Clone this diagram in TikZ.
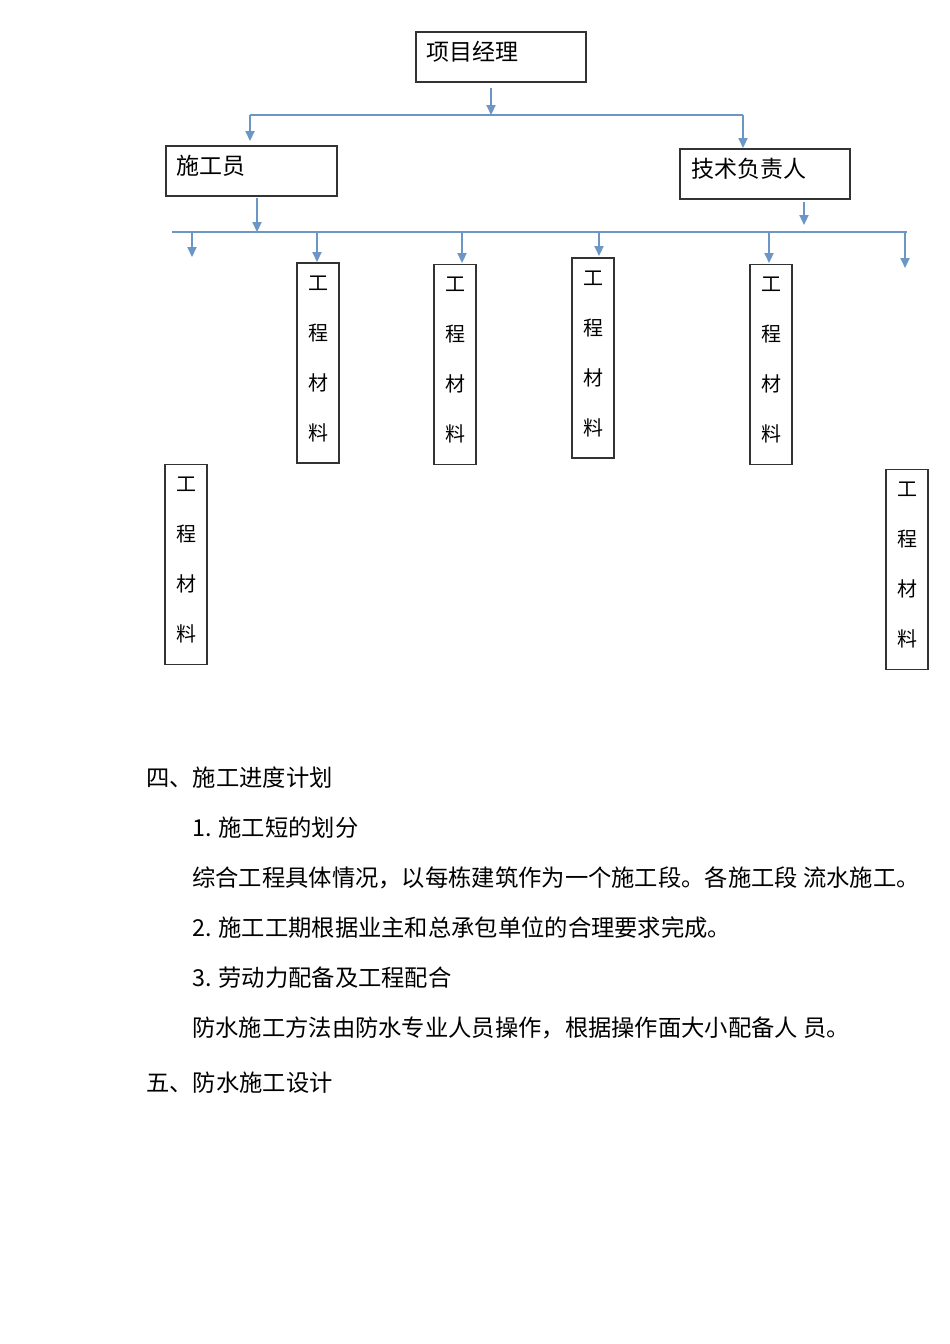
\documentclass[tikz,border=0pt]{standalone}
\usepackage{fontspec}
\setmainfont{Noto Sans CJK SC}
\usetikzlibrary{arrows.meta}
\definecolor{linkblue}{RGB}{108,150,198}
\tikzset{
  box/.style={draw=black!80, line width=1.3pt, inner sep=0pt},
  vbox/.style={draw=black!80, line width=1.3pt, inner sep=0pt, minimum width=42pt, minimum height=200pt},
  vtext/.style={inner sep=0pt, align=center, font=\fontsize{20pt}{50pt}\selectfont},
  lbl/.style={anchor=west, inner sep=0pt, font=\fontsize{23pt}{26pt}\selectfont},
  para/.style={anchor=west, inner sep=0pt, font=\fontsize{23.3pt}{26pt}\selectfont},
  bus/.style={draw=linkblue, line width=2.2pt},
  arr/.style={draw=linkblue, line width=2.2pt, -{Triangle[width=9pt,length=10pt]}}
}
\begin{document}
\begin{tikzpicture}[x=1pt,y=-1pt]
\useasboundingbox[fill=white] (0,0) rectangle (950,1344);
% top boxes
\node[box, minimum width=170pt, minimum height=50pt] (pm) at (501,57) {};
\node[lbl] (pmt) at (426,52) {项目经理};
\node[box, minimum width=171pt, minimum height=50pt] (sg) at (251.5,171) {};
\node[lbl] (sgt) at (176,166) {施工员};
\node[box, minimum width=170pt, minimum height=50pt] (js) at (765,174) {};
\node[lbl] (jst) at (691,169) {技术负责人};
% top bus
\coordinate (b1l) at (250,115);
\coordinate (b1r) at (743,115);
\coordinate (b1m) at (491,115);
\draw[bus] (b1l) -- (b1r);
\draw[arr] (491,88) -- (b1m);
\draw[arr] (b1l) -- (250,141);
\draw[arr] (b1r) -- (743,148);
% second bus
\coordinate (b2l) at (172,232);
\coordinate (b2r) at (907,232);
\draw[bus] (b2l) -- (b2r);
\coordinate (sgd) at (257,232);
\draw[arr] (257,198) -- (sgd);
\coordinate (jsd) at (804,225);
\draw[arr] (804,202) -- (jsd);
% vertical boxes
\node[vbox] (m1) at (318,363) {};
\node[vbox] (m2) at (455,364.5) {};
\node[vbox] (m3) at (593,358) {};
\node[vbox] (m4) at (771,364.5) {};
\node[vbox] (m5) at (186,564.5) {};
\node[vbox] (m6) at (907,569.5) {};
\node[vtext] (m1t) at ([yshift=4pt]m1.center) {工\\程\\材\\料};
\node[vtext] (m2t) at ([yshift=4pt]m2.center) {工\\程\\材\\料};
\node[vtext] (m3t) at ([yshift=4pt]m3.center) {工\\程\\材\\料};
\node[vtext] (m4t) at ([yshift=4pt]m4.center) {工\\程\\材\\料};
\node[vtext] (m5t) at ([yshift=4pt]m5.center) {工\\程\\材\\料};
\node[vtext] (m6t) at ([yshift=4pt]m6.center) {工\\程\\材\\料};
% drops
\coordinate (d0) at (192,232);
\coordinate (d1) at (317,232);
\coordinate (d2) at (462,232);
\coordinate (d3) at (599,232);
\coordinate (d4) at (769,232);
\coordinate (d5) at (905,232);
\draw[arr] (d0) -- (192,257);
\draw[arr] (d1) -- (317,262);
\draw[arr] (d2) -- (462,263);
\draw[arr] (d3) -- (599,256);
\draw[arr] (d4) -- (769,263);
\draw[arr] (d5) -- (905,268);
% text
\node[para] (t1) at (146,778) {四、施工进度计划};
\node[para] (t2) at (192,828) {1. 施工短的划分};
\node[para] (t3) at (192,878) {综合工程具体情况，以每栋建筑作为一个施工段。各施工段\ 流水施工。};
\node[para] (t4) at (192,928) {2. 施工工期根据业主和总承包单位的合理要求完成。};
\node[para] (t5) at (192,978) {3. 劳动力配备及工程配合};
\node[para] (t6) at (192,1028) {防水施工方法由防水专业人员操作，根据操作面大小配备人\ 员。};
\node[para] (t7) at (146,1083) {五、防水施工设计};
\end{tikzpicture}
\end{document}
